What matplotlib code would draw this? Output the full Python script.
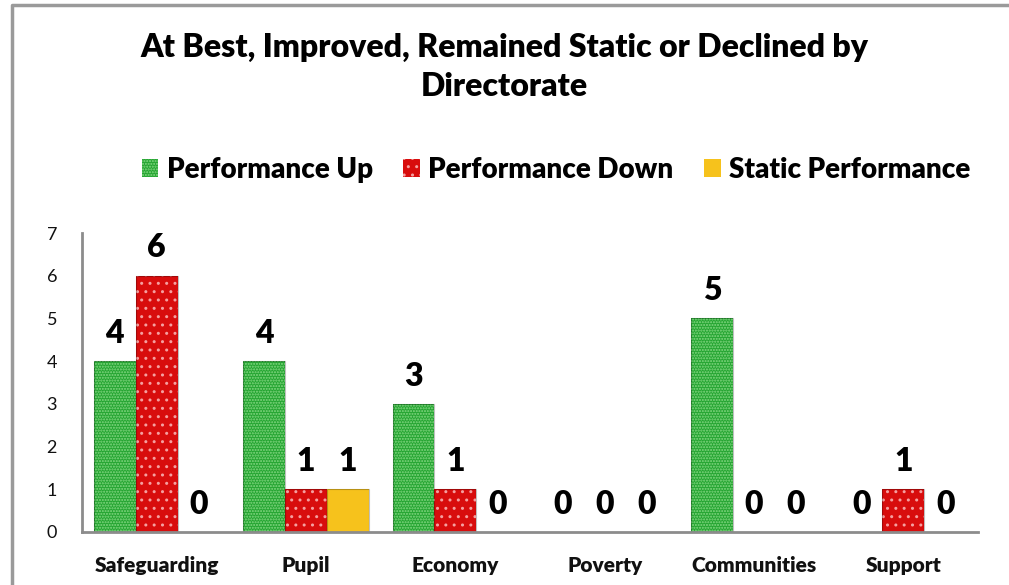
import numpy as np
import matplotlib.pyplot as plt
from matplotlib.patches import Patch
from matplotlib.lines import Line2D

plt.rcParams['font.family'] = ['Lato', 'DejaVu Sans']
plt.rcParams['hatch.linewidth'] = 1.0

categories = ['Safeguarding', 'Pupil', 'Economy', 'Poverty', 'Communities', 'Support']
perf_up = [4, 4, 3, 0, 5, 0]
perf_down = [6, 1, 1, 0, 0, 1]
perf_static = [0, 1, 0, 0, 0, 0]
series_names = ['Performance Up', 'Performance Down', 'Static Performance']

fig = plt.figure(figsize=(10.09, 5.85), dpi=100)
ax = fig.add_axes([0.0813, 0.0906, 0.888, 0.511])

# outer frame (only left and top are visible in the picture)
fig.add_artist(Line2D([12 / 1009, 12 / 1009, 1.0], [0.0, 1 - 5 / 585, 1 - 5 / 585],
                      transform=fig.transFigure, color='#9a9a9a', lw=2.5))

x = np.arange(len(categories))
w = 0.28
styles = [
    dict(facecolor='#25a532', edgecolor='#86d884', hatch='......'),
    dict(facecolor='#d80d0d', edgecolor='#f5a0a0', hatch='..'),
    dict(facecolor='#f6c21c', edgecolor='#f0a000', hatch=None),
]
series = [perf_up, perf_down, perf_static]

for i, (vals, st) in enumerate(zip(series, styles)):
    pos = x + (i - 1) * w
    ax.bar(pos, vals, width=w, facecolor=st['facecolor'],
           edgecolor=st['edgecolor'], hatch=st['hatch'], linewidth=0)
    # thin darker outline
    ax.bar(pos, vals, width=w, facecolor='none',
           edgecolor='#00000040', linewidth=0.8)
    for p, v in zip(pos, vals):
        ax.annotate(str(v), (p, v), xytext=(0, 20), textcoords='offset points',
                    ha='center', va='center', fontsize=23, fontweight='heavy')

ax.set_xlim(-0.5, len(categories) - 0.5)
ax.set_ylim(0, 7)
ax.set_yticks(range(8))
ax.set_xticks(x)
ax.tick_params(axis='both', length=0, colors='#111111')
ax.tick_params(axis='y', labelsize=13, pad=18)
ax.tick_params(axis='x', pad=17)
ax.set_xticklabels(categories, fontweight='heavy', fontsize=15)

for s in ['top', 'right']:
    ax.spines[s].set_visible(False)
for s in ['left', 'bottom']:
    ax.spines[s].set_color('#8c8c8c')
    ax.spines[s].set_linewidth(2)

fig.text(0.5, 1 - 67 / 585, 'At Best, Improved, Remained Static or Declined by\nDirectorate',
         ha='center', va='center', fontsize=23, fontweight='heavy', linespacing=1.45)

handles = [Patch(facecolor=st['facecolor'], edgecolor=st['edgecolor'],
                 hatch=st['hatch'], linewidth=0) for st in styles]
fig.legend(handles, series_names, loc='center', bbox_to_anchor=(0.551, 1 - 170 / 585),
           ncol=3, frameon=False, prop=dict(size=20, weight='heavy'),
           handlelength=0.6, handleheight=0.6, handletextpad=0.3, columnspacing=1.1)

fig.savefig('out.png', dpi=100, facecolor='white')
